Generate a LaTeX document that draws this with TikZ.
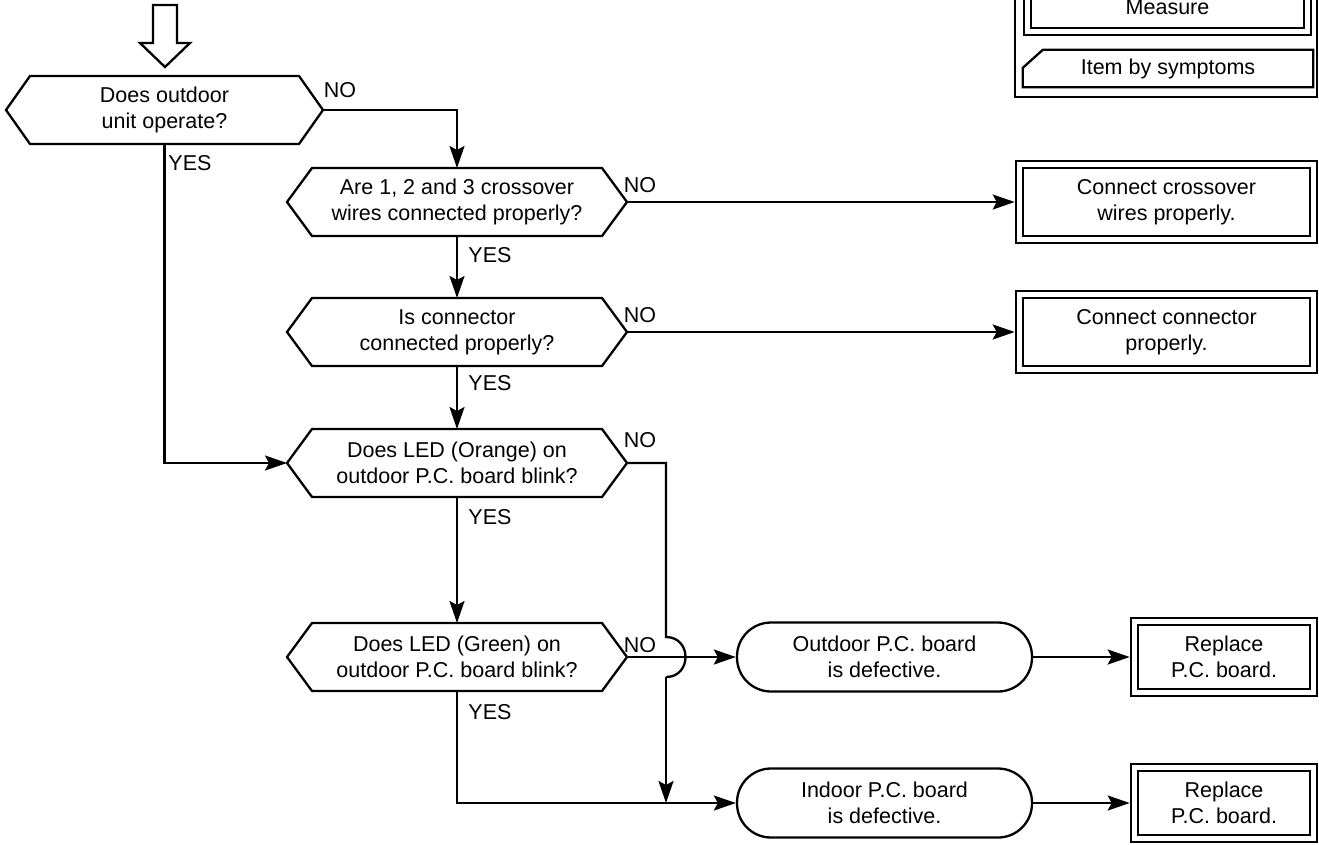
\documentclass[tikz,border=0pt]{standalone}
\usepackage{fontspec}
\setmainfont{Liberation Sans}
\usetikzlibrary{arrows.meta}

\begin{document}
\begin{tikzpicture}[x=1pt,y=-1pt,line join=miter,
  ln/.style={line width=2.3pt},
  arr/.style={ln,-{Stealth[length=22pt,width=15pt,inset=4pt]}},
  txt/.style={font=\fontsize{21.5}{26}\selectfont,align=center},
  ask/.style={txt,minimum width=340pt,minimum height=68pt,inner sep=0pt,outer sep=0pt},
  act/.style={txt,draw,line width=2.3pt,double,double distance=5pt,inner sep=0pt,outer sep=4.8pt},
  ends/.style={txt,draw,line width=2.3pt,rounded corners=34pt,minimum width=295pt,minimum height=69pt,inner sep=0pt},
  lbl/.style={font=\fontsize{21.5}{26}\selectfont,inner sep=0pt}]
\useasboundingbox (0,0) rectangle (1319,844);
\clip (0,0) rectangle (1319,844);
% start arrow
\draw[ln] (153,5) -- (177,5) -- (177,43) -- (190,43) -- (165,67) -- (140,43) -- (153,43) -- cycle;
% legend
\draw[ln] (1015,-20) rectangle (1317,97);
\node[act,minimum width=280pt,minimum height=49pt] (msr) at (1167.5,7) {Measure};
\node[txt,minimum width=290pt,minimum height=37pt,inner sep=0pt] (sym) at (1168,68.5) {Item by symptoms};
\draw[ln] (sym.south west) -- ([yshift=-18pt]sym.north west) -- ([xshift=20pt]sym.north west) -- (sym.north east) -- (sym.south east) -- cycle;
% questions
\node[ask,minimum width=317pt] (q1) at (164.5,110) {Does outdoor\\unit operate?};
\node[ask] (q2) at (457,202) {Are 1, 2 and 3 crossover\\wires connected properly?};
\node[ask] (q3) at (457,332) {Is connector\\connected properly?};
\node[ask] (q4) at (457,463) {Does LED (Orange) on\\outdoor P.C. board blink?};
\node[ask] (q5) at (457,657) {Does LED (Green) on\\outdoor P.C. board blink?};
\foreach \q/\s in {q1/24,q2/25,q3/25,q4/25,q5/25}
  \draw[ln] (\q.west) -- ([xshift=\s pt]\q.north west) -- ([xshift=-\s pt]\q.north east) -- (\q.east)
    -- ([xshift=-\s pt]\q.south east) -- ([xshift=\s pt]\q.south west) -- cycle;
% measures
\node[act,minimum width=294pt,minimum height=75pt] (c1) at (1166.5,202) {Connect crossover\\wires properly.};
\node[act,minimum width=294pt,minimum height=75pt] (c2) at (1166.5,332) {Connect connector\\properly.};
\node[ends] (t1) at (884.5,657) {Outdoor P.C. board\\is defective.};
\node[ends] (t2) at (884.5,803) {Indoor P.C. board\\is defective.};
\node[act,minimum width=179pt,minimum height=71pt] (r1) at (1224,657) {Replace\\P.C. board.};
\node[act,minimum width=179pt,minimum height=71pt] (r2) at (1224,803) {Replace\\P.C. board.};
% connectors
\coordinate (jtop) at (666,637);
\coordinate (jbot) at (666,677);
\coordinate (mrg) at (666,803);
\draw[arr] (q1.east) -| (q2.north);
\draw[arr] (q1.south) |- (q4.west);
\draw[arr] (q2.east) -- (c1.west);
\draw[arr] (q2.south) -- (q3.north);
\draw[arr] (q3.east) -- (c2.west);
\draw[arr] (q3.south) -- (q4.north);
\draw[arr] (q4.south) -- (q5.north);
\draw[ln] (q4.east) -| (jtop) .. controls +(26,0) and +(26,0) .. (jbot);
\draw[arr] (jbot) -- (mrg);
\draw[arr] (q5.east) -- (t1.west);
\draw[arr] (q5.south) |- (t2.west);
\draw[arr] (t1.east) -- (r1.west);
\draw[arr] (t2.east) -- (r2.west);
% labels
\node[lbl] (n1) at (340,90) {NO};
\node[lbl] (n2) at (640,185) {NO};
\node[lbl] (n3) at (640,315) {NO};
\node[lbl] (n4) at (640,440) {NO};
\node[lbl] (n5) at (640,645) {NO};
\node[lbl] (y1) at (190,163) {YES};
\node[lbl] (y2) at (490,255) {YES};
\node[lbl] (y3) at (490,383) {YES};
\node[lbl] (y4) at (490,517) {YES};
\node[lbl] (y5) at (490,712) {YES};
\end{tikzpicture}
\end{document}
